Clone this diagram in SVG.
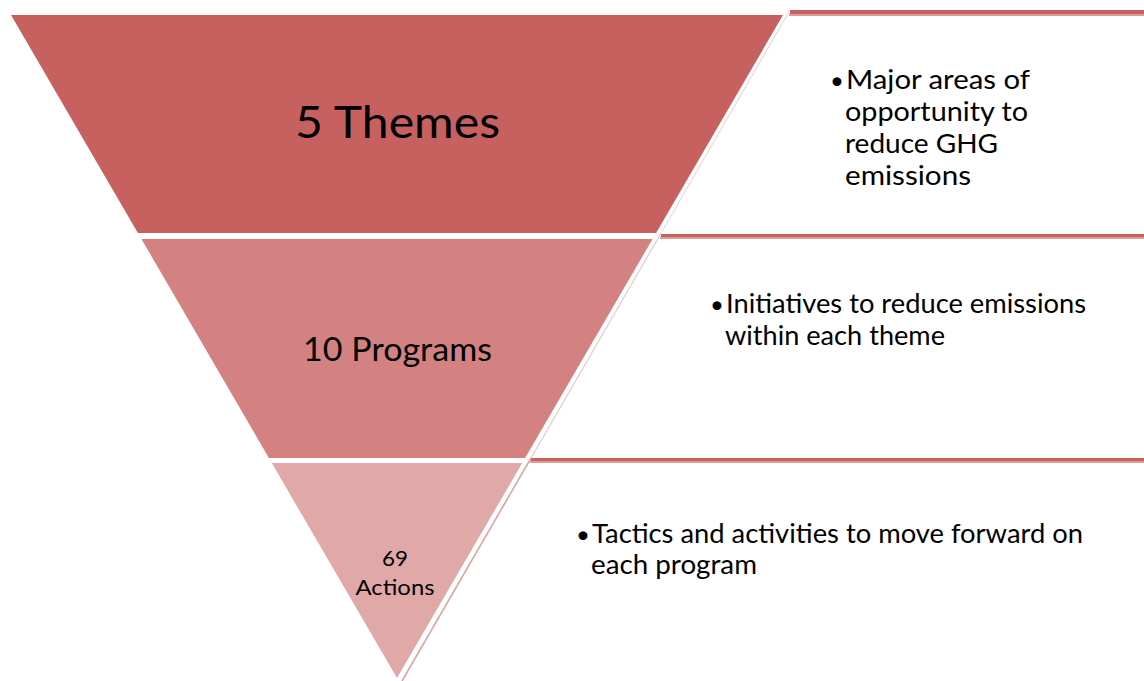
<svg xmlns="http://www.w3.org/2000/svg" width="1144" height="681" viewBox="0 0 1144 681">
<style>
.t{font-family:Lato,"Liberation Sans",sans-serif;fill:#000}
.r{font-size:26.5px}
.b{font-size:24px}
.bar{fill:#c8605e}
.barl{fill:#de9b99}
</style>
<rect width="1144" height="681" fill="#fff"/>
<g id="themes">
<polygon points="11,15 783,15 656.1,233 137.9,233" fill="#c7615f"/>
<text class="t" x="397.5" y="138" font-size="45" text-anchor="middle" textLength="205" lengthAdjust="spacingAndGlyphs">5 Themes</text>
</g>
<g id="programs">
<polygon points="141.4,239 652.6,239 525.1,458 268.9,458" fill="#d48281"/>
<text class="t" x="397.5" y="361" font-size="32" text-anchor="middle" textLength="189" lengthAdjust="spacingAndGlyphs">10 Programs</text>
</g>
<g id="actions">
<polygon points="271.8,463 522.2,463 397,678" fill="#e0a8a7"/>
<text class="t" x="395" y="566" font-size="21.5" text-anchor="middle" textLength="26" lengthAdjust="spacingAndGlyphs">69</text>
<text class="t" x="395" y="595" font-size="21.5" text-anchor="middle" textLength="79" lengthAdjust="spacingAndGlyphs">Actions</text>
</g>
<g id="box1">
<rect class="bar" x="790" y="10" width="354" height="4"/>
<rect class="barl" x="789" y="14" width="355" height="2"/>
<text class="t b" x="844" y="89" text-anchor="end">•</text>
<text class="t r" x="846" y="89" textLength="184" lengthAdjust="spacingAndGlyphs">Major areas of</text>
<text class="t r" x="845" y="121" textLength="183" lengthAdjust="spacingAndGlyphs">opportunity to</text>
<text class="t r" x="845" y="153" textLength="153" lengthAdjust="spacingAndGlyphs">reduce GHG</text>
<text class="t r" x="845" y="185" textLength="126" lengthAdjust="spacingAndGlyphs">emissions</text>
</g>
<g id="box2">
<rect class="bar" x="661" y="234" width="483" height="3"/>
<rect class="barl" x="660" y="237" width="484" height="2"/>
<text class="t b" x="724" y="313" text-anchor="end">•</text>
<text class="t r" x="726" y="313" textLength="360" lengthAdjust="spacingAndGlyphs">Initiatives to reduce emissions</text>
<text class="t r" x="725" y="345" textLength="220" lengthAdjust="spacingAndGlyphs">within each theme</text>
</g>
<g id="box3">
<rect class="bar" x="531" y="458" width="613" height="3"/>
<rect class="barl" x="530" y="461" width="614" height="2"/>
<text class="t b" x="590" y="543" text-anchor="end">•</text>
<text class="t r" x="592" y="543" textLength="491" lengthAdjust="spacingAndGlyphs">Tactics and activities to move forward on</text>
<text class="t r" x="591" y="574" textLength="166" lengthAdjust="spacingAndGlyphs">each program</text>
</g>
<g id="connectors" fill="none" stroke-width="1.2">
<line x1="790" y1="10" x2="660.5" y2="234" stroke="#f2d6d6"/>
<line x1="660.5" y1="234" x2="531" y2="458" stroke="#ecc6c6"/>
<line x1="531" y1="458" x2="402" y2="681" stroke="#dea2a2" stroke-width="1.6"/>
</g>
</svg>
